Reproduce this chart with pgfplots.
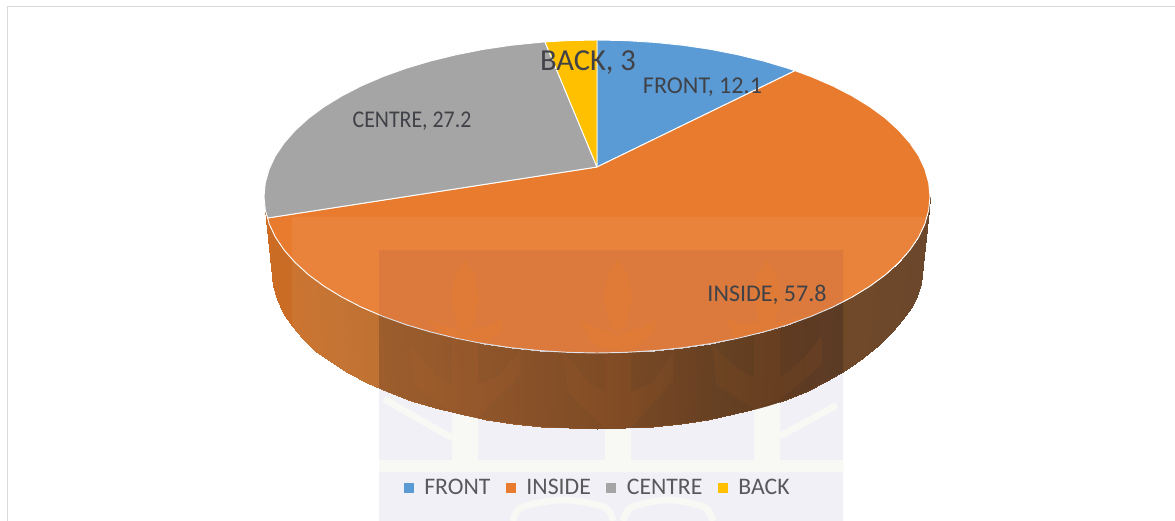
\documentclass[border=0pt]{standalone}
\usepackage{fontspec}
\setmainfont{Carlito}
\usepackage{pgfplots}
\pgfplotsset{compat=1.18}
\definecolor{cfront}{RGB}{91,155,213}
\definecolor{cinside}{RGB}{232,123,46}
\definecolor{ccentre}{RGB}{165,165,165}
\definecolor{cback}{RGB}{255,192,0}
\definecolor{cream}{RGB}{248,248,245}
\definecolor{tint}{RGB}{0,0,100}
\definecolor{lbl}{RGB}{64,66,72}
\definecolor{legtxt}{RGB}{89,89,92}
\begin{document}
\begin{tikzpicture}
\path[use as bounding box] (0,0) rectangle (881.25pt,390.75pt);
\begin{axis}[
  at={(0,0)}, anchor=south west,
  scale only axis, width=881.25pt, height=390.75pt,
  xmin=0, xmax=1175, ymin=0, ymax=521, y dir=reverse,
  hide axis, clip=true,
  colormap={sidegrad}{
    rgb255=(205,108,36) rgb255=(193,108,40) rgb255=(182,103,36) rgb255=(168,94,32) rgb255=(156,87,29)
    rgb255=(140,78,26) rgb255=(119,69,24) rgb255=(108,62,21) rgb255=(103,62,28) rgb255=(98,60,30)},
  point meta min=264, point meta max=930,
  legend columns=4,
  legend style={at={(axis cs:598,488)}, anchor=center, draw=none, fill=none,
    font=\fontsize{17.8}{20}\selectfont\color{legtxt}, inner sep=0pt,
    /tikz/every odd column/.append style={column sep=6pt},
    /tikz/every even column/.append style={column sep=9.5pt}},
  legend image code/.code={\fill[#1,draw=none] (0pt,-3.4pt) rectangle (7.5pt,3.4pt);},
]
% frame of the page
\addplot[forget plot, draw={rgb,255:red,217;green,217;blue,217}, line width=1.1pt] coordinates {(7.5,521) (7.5,6.5) (1175,6.5)};
% side wall of the pie
\addplot[forget plot, surf, shader=interp, mesh/rows=2, point meta=explicit] table[x=x,y=y,meta=c] {
x y c
930 196.5 930
928.7 210.1 928.7
924.9 223.7 924.9
918.7 237 918.7
909.9 250 909.9
898.8 262.6 898.8
885.4 274.8 885.4
869.8 286.3 869.8
852.1 297.1 852.1
832.5 307.2 832.5
811.1 316.4 811.1
788 324.7 788
763.5 332 763.5
737.7 338.3 737.7
710.9 343.6 710.9
683.2 347.7 683.2
654.8 350.6 654.8
626 352.4 626
597 353 597
568 352.4 568
539.2 350.6 539.2
510.8 347.7 510.8
483.1 343.6 483.1
456.3 338.3 456.3
430.5 332 430.5
406 324.7 406
382.9 316.4 382.9
361.5 307.2 361.5
341.9 297.1 341.9
324.2 286.3 324.2
308.6 274.8 308.6
295.2 262.6 295.2
284.1 250 284.1
275.3 237 275.3
269.1 223.7 269.1
265.3 210.1 265.3
264 196.5 264
922 272 930
920.8 284 928.7
917.1 296 924.9
910.9 308 918.7
902.4 320 909.9
891.6 332 898.8
878.5 345 885.4
863.2 358 869.8
846 370 852.1
826.8 381 832.5
805.9 392 811.1
783.4 400.6 788
759.5 408 763.5
734.4 414.3 737.7
708.2 419.5 710.9
681.1 423.7 683.2
653.4 426.6 654.8
625.3 428.4 626
597 429 597
568.7 428.4 568
540.6 426.6 539.2
512.9 423.7 510.8
485.8 419.5 483.1
459.6 414.3 456.3
434.5 408 430.5
410.6 400.6 406
388.1 392.3 382.9
367.2 383 361.5
348 372.9 341.9
330.8 362.1 324.2
315.5 350.5 308.6
302.4 338.3 295.2
291.6 325.7 284.1
283.1 312.6 275.3
276.9 299.3 269.1
273.2 285.7 265.3
272 272 264
};
% pie top: the four slices
\addplot[fill=cfront, draw=white, line width=0.7pt, line join=round] coordinates {(597,167) (597,40) (626,40.6) (654.8,42.4) (683.2,45.3) (710.9,49.4) (737.7,54.7) (763.5,61) (788,68.3) (795,70.7) (597,167)};
\addlegendentry{FRONT}
\addplot[fill=cinside, draw=white, line width=0.7pt, line join=round] coordinates {(597,167) (795,70.7) (811.1,76.6) (832.5,85.8) (852.1,95.9) (869.8,106.7) (885.4,118.2) (898.8,130.4) (909.9,143) (918.7,156) (924.9,169.3) (928.7,182.9) (930,196.5) (928.7,210.1) (924.9,223.7) (918.7,237) (909.9,250) (898.8,262.6) (885.4,274.8) (869.8,286.3) (852.1,297.1) (832.5,307.2) (811.1,316.4) (788,324.7) (763.5,332) (737.7,338.3) (710.9,343.6) (683.2,347.7) (654.8,350.6) (626,352.4) (597,353) (568,352.4) (539.2,350.6) (510.8,347.7) (483.1,343.6) (456.3,338.3) (430.5,332) (406,324.7) (382.9,316.4) (361.5,307.2) (341.9,297.1) (324.2,286.3) (308.6,274.8) (295.2,262.6) (284.1,250) (275.3,237) (269.1,223.7) (267.6,218) (597,167)};
\addlegendentry{INSIDE}
\addplot[fill=ccentre, draw=white, line width=0.7pt, line join=round] coordinates {(597,167) (267.6,218) (265.3,210.1) (264,196.5) (265.3,182.9) (269.1,169.3) (275.3,156) (284.1,143) (295.2,130.4) (308.6,118.2) (324.2,106.7) (341.9,95.9) (361.5,85.8) (382.9,76.6) (406,68.3) (430.5,61) (456.3,54.7) (483.1,49.4) (510.8,45.3) (539.2,42.4) (545,41.9) (597,167)};
\addlegendentry{CENTRE}
\addplot[fill=cback, draw=white, line width=0.7pt, line join=round] coordinates {(597,167) (545,41.9) (568,40.6) (597,40) (597,167)};
\addlegendentry{BACK}
% watermark over the pie
\addplot[forget plot, fill=white, fill opacity=0.06, draw=none] coordinates {(292,217) (960,217) (960,521) (292,521) (292,217)};
\addplot[forget plot, fill=tint, fill opacity=0.06, draw=none] coordinates {(379,250) (843,250) (843,521) (379,521) (379,250)};
\addplot[forget plot, fill=black, fill opacity=0.12, draw=none] coordinates {(843,302) (832.5,307.2) (811.1,316.4) (788,324.7) (763.5,332) (737.7,338.3) (710.9,343.6) (683.2,347.7) (654.8,350.6) (626,352.4) (597,353) (568,352.4) (539.2,350.6) (510.8,347.7) (483.1,343.6) (456.3,338.3) (430.5,332) (406,324.7) (379,314.8) (379,388.4) (388.1,392.3) (410.6,400.6) (434.5,408) (459.6,414.3) (485.8,419.5) (512.9,423.7) (540.6,426.6) (568.7,428.4) (597,429) (625.3,428.4) (653.4,426.6) (681.1,423.7) (708.2,419.5) (734.4,414.3) (759.5,408) (783.4,400.6) (805.9,392) (826.8,381) (843,372) (843,302)};
% emblem leaves on the pie
\addplot[forget plot, fill=cinside, fill opacity=0.35, draw=none] coordinates {(465,260) (475,275) (479,298) (473,325) (465,334) (457,325) (451,298) (455,275) (465,260)};
\addplot[forget plot, fill=cinside, fill opacity=0.35, draw=none] coordinates {(618,260) (628,275) (632,298) (626,325) (618,334) (610,325) (604,298) (608,275) (618,260)};
\addplot[forget plot, fill=cinside, fill opacity=0.35, draw=none] coordinates {(767,260) (777,275) (781,298) (775,322) (767,326) (759,322) (753,298) (757,275) (767,260)};
\addplot[forget plot, fill=cinside, fill opacity=0.35, draw=none] coordinates {(427,319) (443,326) (453,328) (465,335) (477,328) (489,326) (503,318) (501,332) (490,340) (479,342.5) (451,336.5) (438,331) (427,319)};
\addplot[forget plot, fill=cinside, fill opacity=0.35, draw=none] coordinates {(580,319) (596,328) (606,330) (618,336) (630,330) (642,328) (656,318) (654,332) (643,342) (632,349) (604,349) (591,342) (580,319)};
\addplot[forget plot, fill=cinside, fill opacity=0.35, draw=none] coordinates {(727,319) (745,325) (757,323) (767,327) (777,322) (789,320) (805,314) (800,319) (789,324) (777,328) (763.5,331) (745,336) (733,339) (727,319)};
\addplot[forget plot, fill=cinside, fill opacity=0.06, draw=none] coordinates {(410,345) (435,375) (452,385) (452,338) (478,343) (478,385) (500,375) (520,350) (520,375) (478,417) (452,413) (415,385) (410,345)};
\addplot[forget plot, fill=cinside, fill opacity=0.06, draw=none] coordinates {(563,352) (588,382) (605,392) (605,353) (631,353) (631,392) (653,382) (673,352) (673,380) (631,428) (605,428) (568,392) (563,352)};
\addplot[forget plot, fill=cinside, fill opacity=0.06, draw=none] coordinates {(712,345) (737,368) (754,378) (754,335) (780,328) (780,378) (802,360) (822,335) (822,365) (780,400) (754,409) (717,385) (712,345)};
% lower part of the watermark, below the pie
\addplot[forget plot, fill=cream, draw=none] coordinates {(379,460) (843,460) (843,472) (379,472) (379,460)};
\addplot[forget plot, cream, line width=5pt, smooth] coordinates {(513,521) (522,507) (563,500) (604,507) (613,521)};
\addplot[forget plot, cream, line width=5pt, smooth] coordinates {(623,521) (632,507) (668,500) (704,507) (713,521)};
\addplot[forget plot, fill=cream, draw=none] coordinates {(452,413) (465,416) (478,418.5) (478,460) (452,460) (452,413)};
\addplot[forget plot, fill=cream, draw=none] coordinates {(605,429.5) (631,429) (631,460) (605,460) (605,429.5)};
\addplot[forget plot, fill=cream, draw=none] coordinates {(754,410) (767,406.5) (780,402.5) (780,460) (754,460) (754,410)};
\addplot[forget plot, cream, line width=5pt] coordinates {(384,399) (452,438)};
\addplot[forget plot, cream, line width=5pt] coordinates {(780,436) (837,405)};
% data labels
\node[lbl, font=\fontsize{18.1}{21}\selectfont] at (axis cs:702.5,87) {FRONT, 12.1};
\node[lbl, font=\fontsize{18}{21}\selectfont] at (axis cs:767,295) {INSIDE, 57.8};
\node[lbl, font=\fontsize{18}{21}\selectfont] at (axis cs:412,121) {\scalebox{0.91}[1]{CENTRE, 27.2}};
\node[lbl, font=\fontsize{22.9}{26}\selectfont] at (axis cs:588,63) {BACK, 3};
\end{axis}
\end{tikzpicture}
\end{document}
